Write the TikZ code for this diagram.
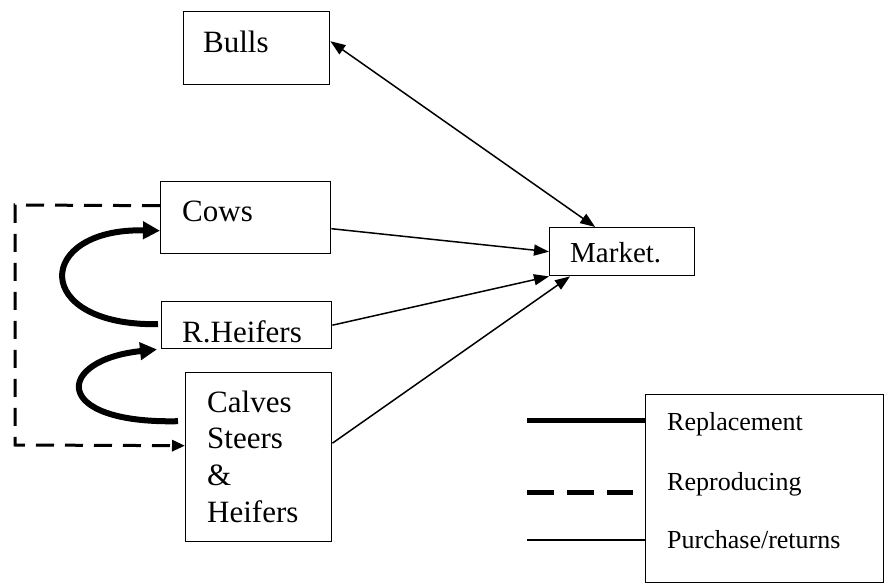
\documentclass[tikz,border=0pt]{standalone}
\usepackage{fontspec}
\setmainfont{Liberation Serif}
\usetikzlibrary{arrows.meta}
\begin{document}
\begin{tikzpicture}[x=1pt,y=-1pt,
  boxst/.style={draw,line width=1.4pt,rectangle,inner sep=0pt,anchor=north west},
  lbl/.style={anchor=base west,inner sep=0pt,font=\fontsize{31}{37}\selectfont},
  leg/.style={anchor=base west,inner sep=0pt,font=\fontsize{26}{31}\selectfont},
  buy/.style={line width=1.5pt,-{Triangle[length=15pt,width=11pt]}},
  repl/.style={line width=6pt,-{Triangle[length=17pt,width=17pt]}},
  reprod/.style={line width=3pt,dash pattern=on 18pt off 11pt,-{Triangle[length=13pt,width=11pt]}}]
\useasboundingbox (0,0) rectangle (889,585);
% boxes
\node[boxst,minimum width=146pt,minimum height=73pt] (Bulls) at (183,11) {};
\node[boxst,minimum width=170pt,minimum height=72pt] (Cows) at (160,181) {};
\node[boxst,minimum width=170pt,minimum height=47pt] (RH) at (161,301) {};
\node[boxst,minimum width=146pt,minimum height=169pt] (Calves) at (185,372) {};
\node[boxst,minimum width=145pt,minimum height=48pt] (Market) at (549,227) {};
\node[boxst,minimum width=238pt,minimum height=188pt] (Legend) at (645,394) {};
% labels
\node[lbl] (tBulls) at (203,53) {Bulls};
\node[lbl] (tCows) at (182,222) {Cows};
\node[lbl] (tRH) at (182,342) {R.Heifers};
\node[lbl] (tC1) at (207,412) {Calves};
\node[lbl] (tC2) at (207,448) {Steers};
\node[lbl] (tC3) at (207,485) {\&};
\node[lbl] (tC4) at (207,522) {Heifers};
\node[lbl,font=\fontsize{29}{35}\selectfont] (tMarket) at (570,263) {Market.};
\node[leg] (tRepl) at (667,430) {Replacement};
\node[leg] (tRepr) at (667,490) {Reproducing};
\node[leg] (tPur) at (667,548) {Purchase/returns};
% purchase/returns connectors
\draw[buy,{Triangle[length=15pt,width=11pt]}-{Triangle[length=15pt,width=11pt]}] ([yshift=7pt]Bulls.east) -- ([xshift=-27pt]Market.north);
\draw[buy] ([yshift=-11pt]Cows.east) -- (Market.west);
\draw[buy] (RH.east) -- (Market.south west);
\draw[buy] ([yshift=14pt]Calves.east) -- ([xshift=21pt]Market.south west);
% replacement curves
\draw[repl] ([xshift=-3pt,yshift=1pt]RH.west) .. controls (30,326) and (35,228) .. ([yshift=-13pt]Cows.west);
\draw[repl] ([xshift=-7pt,yshift=36pt]Calves.west) .. controls (50,424) and (55,360) .. ([xshift=-4pt]RH.south west);
% reproducing
\coordinate (d1) at (15,205);
\coordinate (d2) at (15,445);
\draw[reprod] ([yshift=12pt]Cows.west) -- (d1) -- (d2) -- ([yshift=11.5pt]Calves.west);
% legend lines
\coordinate (l1) at (527,420);
\coordinate (l2) at (527,492);
\coordinate (l2e) at (633,492);
\coordinate (l3) at (527,540);
\draw[line width=5pt] (l1) -- (Legend.west |- l1);
\draw[line width=5pt,dash pattern=on 27pt off 13pt] (l2) -- (l2e);
\draw[line width=1.4pt] (l3) -- (Legend.west |- l3);
\end{tikzpicture}
\end{document}
